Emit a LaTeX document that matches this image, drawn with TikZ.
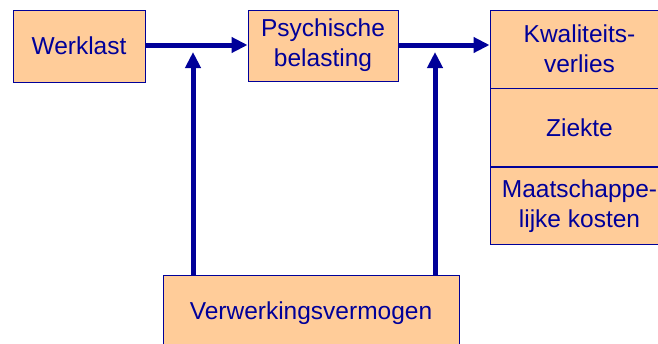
\documentclass[tikz,border=0pt]{standalone}
\usepackage{fontspec}
\setmainfont{Liberation Sans}
\usetikzlibrary{arrows.meta}
\definecolor{navy}{HTML}{000099}
\definecolor{peach}{HTML}{FFCC99}
\begin{document}
\begin{tikzpicture}[x=1pt,y=-1pt,
  box/.style={draw=navy,fill=peach,line width=0.9pt,inner sep=0pt,align=center,
    text=navy,font=\fontsize{24.5}{30}\selectfont},
  flow/.style={draw=navy,line width=5pt,-{Triangle[length=16pt,width=15pt]}}]
\useasboundingbox (0,0) rectangle (658,343);
% input, load and capacity boxes
\node[box,minimum width=132pt,minimum height=72pt] (werk) at (79,46) {Werklast};
\node[box,minimum width=150pt,minimum height=71pt] (psych) at (323,45.5) {Psychische\\belasting};
\node[box,minimum width=296pt,minimum height=76pt] (verw) at (311,313) {Verwerkingsvermogen};
% stacked outcome column, running past the right edge
\node[box,minimum width=179pt,minimum height=78pt] (kwal) at (579.5,49) {Kwaliteits-\\verlies};
\node[box,minimum width=179pt,minimum height=78pt,anchor=north] (ziek) at (kwal.south) {Ziekte};
\node[box,minimum width=179pt,minimum height=77pt,anchor=north] (maat) at (ziek.south) {Maatschappe-\\lijke kosten};
% arrows
\coordinate (t1) at (193,52);
\coordinate (t2) at (435,52);
\draw[flow] (werk.east |- 0,45) -- (psych.west |- 0,45);
\draw[flow] (psych.east |- 0,45) -- (kwal.west |- 0,45);
\draw[flow] (t1 |- verw.north) -- (t1);
\draw[flow] (t2 |- verw.north) -- (t2);
\end{tikzpicture}
\end{document}
